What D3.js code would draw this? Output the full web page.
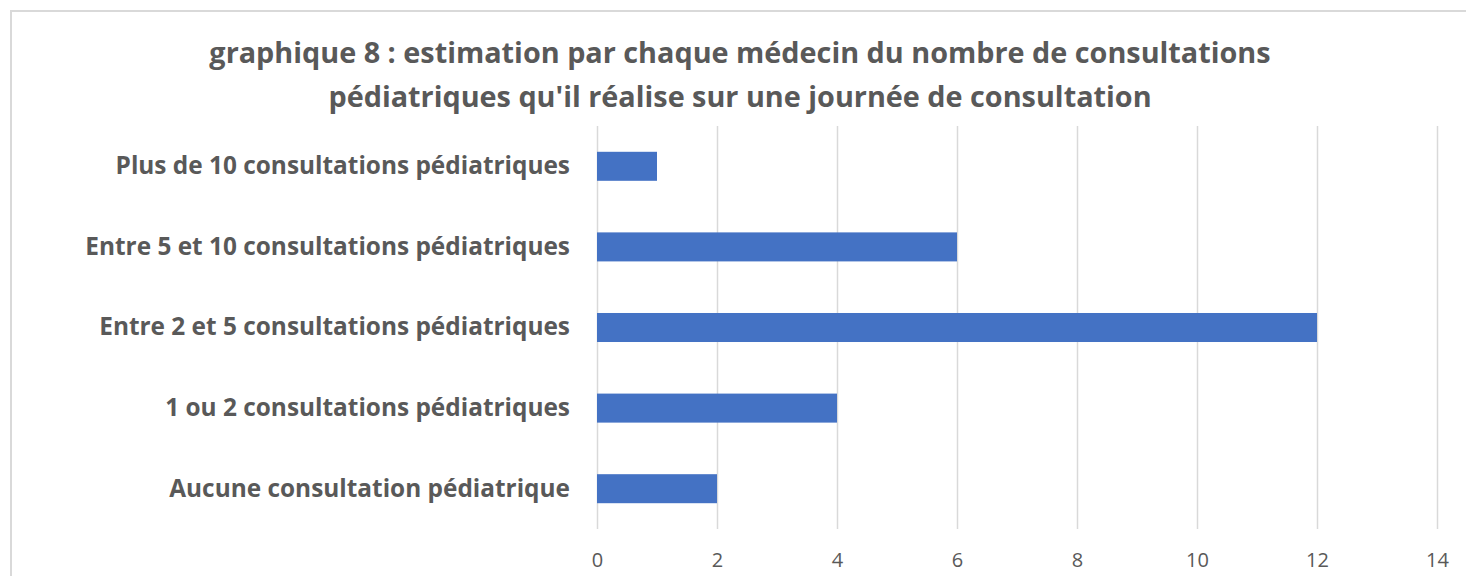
<!DOCTYPE html>
<html>
<head>
<meta charset="utf-8">
<script src="https://cdn.jsdelivr.net/npm/d3@7"></script>
<style>
  body { margin: 0; background: #fff; }
  svg, svg text { font-family: 'Open Sans', Lato, sans-serif; }
  svg { display: block; }
  .axis--x .domain { display: none; }
  .axis--x line { stroke: #d9d9d9; stroke-width: 1.5; }
  .axis--x text { fill: #595959; font-size: 20px; }
  .axis--y .domain, .axis--y line { display: none; }
  .axis--y text { fill: #595959; font-size: 24.4px; font-weight: bold; }
</style>
</head>
<body>
<div id="chart"></div>
<script>
const categories = [
  'Plus de 10 consultations pédiatriques',
  'Entre 5 et 10 consultations pédiatriques',
  'Entre 2 et 5 consultations pédiatriques',
  '1 ou 2 consultations pédiatriques',
  'Aucune consultation pédiatrique'
]
const values = [1, 6, 12, 4, 2]
const xTicks = [0, 2, 4, 6, 8, 10, 12, 14]
const titleLines = [
  'graphique 8 : estimation par chaque médecin du nombre de consultations',
  "pédiatriques qu'il réalise sur une journée de consultation"
]

const data = categories.map((c, i) => ({ category: c, value: values[i] }))

const width = 1466
const height = 576
const margin = { top: 126, right: 29, bottom: 47, left: 597 }
const innerW = width - margin.left - margin.right
const innerH = height - margin.top - margin.bottom

const svg = d3.select('#chart').append('svg')
  .attr('width', width)
  .attr('height', height)

// chart frame
svg.append('rect')
  .attr('x', 11).attr('y', 11)
  .attr('width', width + 10).attr('height', height + 10)
  .attr('fill', 'none')
  .attr('stroke', '#d9d9d9')
  .attr('stroke-width', 2)

svg.append('g')
  .selectAll('text')
  .data(titleLines)
  .join('text')
  .attr('x', 740)
  .attr('y', (d, i) => 53 + i * 44)
  .attr('dy', '0.35em')
  .attr('text-anchor', 'middle')
  .attr('fill', '#595959')
  .attr('font-size', 28.8)
  .attr('font-weight', 'bold')
  .text(d => d)

const x = d3.scaleLinear().domain([0, 14]).range([0, innerW])
const y = d3.scaleBand()
  .domain(categories)
  .range([0, innerH])
  .paddingInner(0.64)
  .paddingOuter(0.32)

const g = svg.append('g')
  .attr('transform', 'translate(' + margin.left + ',' + margin.top + ')')

g.append('g')
  .attr('class', 'axis axis--x')
  .attr('transform', 'translate(0,' + innerH + ')')
  .call(d3.axisBottom(x).tickValues(xTicks).tickSize(innerH).tickSizeOuter(0).tickPadding(0))
  .call(a => a.selectAll('line').attr('y2', -innerH))
  .call(a => a.selectAll('text').attr('y', 31).attr('dy', '0.35em'))

g.append('g')
  .attr('class', 'axis axis--y')
  .call(d3.axisLeft(y).tickSize(0).tickPadding(27))

g.append('g')
  .selectAll('rect')
  .data(data)
  .join('rect')
  .attr('x', x(0))
  .attr('y', d => y(d.category))
  .attr('width', d => x(d.value) - x(0))
  .attr('height', y.bandwidth())
  .attr('fill', '#4472c4')
</script>
</body>
</html>
